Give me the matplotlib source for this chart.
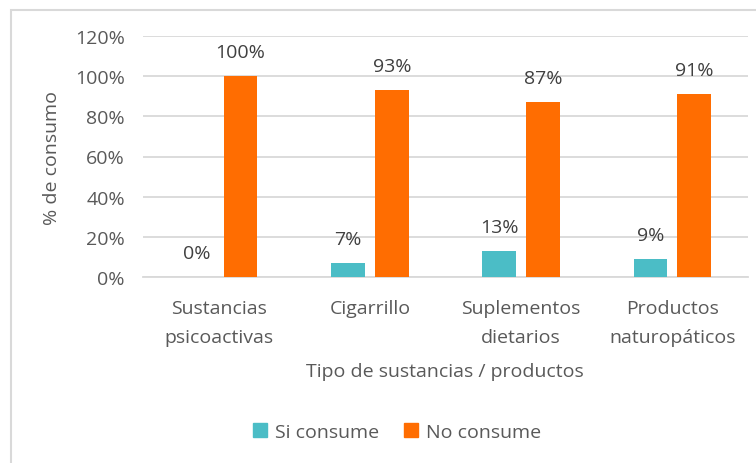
import matplotlib
matplotlib.use("Agg")
import matplotlib.pyplot as plt
from matplotlib.patches import Rectangle, Patch
import numpy as np

categories = ["Sustancias\npsicoactivas", "Cigarrillo", "Suplementos\ndietarios", "Productos\nnaturopáticos"]
si_consume = [0, 7, 13, 9]
no_consume = [100, 93, 87, 91]
yticks = [0, 20, 40, 60, 80, 100, 120]

teal = "#4BBDC6"
orange = "#FF6D01"
grey = "#595959"
fs = 14

plt.rcParams['font.family'] = ['Open Sans', 'DejaVu Sans']

W, H = 756, 464
fig = plt.figure(figsize=(W/100, H/100), dpi=100)
ax = fig.add_axes([143/W, 1-278/H, (748-143)/W, (278-37)/H])

x = np.arange(len(categories))
bw = 0.224
off = 0.145
b1 = ax.bar(x - off, si_consume, bw, color=teal, zorder=3)
b2 = ax.bar(x + off, no_consume, bw, color=orange, zorder=3)

for bars, vals in ((b1, si_consume), (b2, no_consume)):
    for b, v in zip(bars, vals):
        ax.annotate(f"{v}%", (b.get_x() + b.get_width()/2, v), xytext=(0, 17.5),
                    textcoords="offset points", ha="center", va="center",
                    fontsize=fs, color="#404040")

ax.set_xlim(-0.5, len(categories) - 0.5)
ax.set_ylim(0, 120)
ax.set_yticks(yticks)
ax.set_yticklabels([f"{t}%" for t in yticks], fontsize=fs, color=grey)
ax.set_xticks(x)
ax.set_xticklabels(categories, fontsize=fs, color=grey, linespacing=1.75)
ax.tick_params(axis='both', length=0)
ax.tick_params(axis='y', pad=13)
ax.tick_params(axis='x', pad=16)
ax.yaxis.grid(True, color="#D9D9D9", linewidth=1.3, zorder=0)
for s in ("top", "right", "left"):
    ax.spines[s].set_visible(False)
ax.spines["bottom"].set_color("#D9D9D9")
ax.spines["bottom"].set_linewidth(1.3)

fig.text(52/W, 1-158/H, "% de consumo", rotation=90, ha="center", va="center",
         fontsize=fs, color=grey)
fig.text(445/W, 1-372/H, "Tipo de sustancias / productos", ha="center", va="center",
         fontsize=fs, color=grey)

handles = [Patch(color=teal, label="Si consume"), Patch(color=orange, label="No consume")]
fig.legend(handles=handles, loc="center", bbox_to_anchor=(397/W, 1-433/H), ncol=2,
           frameon=False, fontsize=fs, labelcolor=grey, handlelength=0.7,
           handleheight=0.7, handletextpad=0.4, columnspacing=1.3)

fig.patches.append(Rectangle((11/W, -0.1), 2, 1 - 11/H + 0.1, transform=fig.transFigure,
                             fill=False, edgecolor="#D9D9D9", linewidth=1.5))

fig.savefig("out.png", dpi=100)
